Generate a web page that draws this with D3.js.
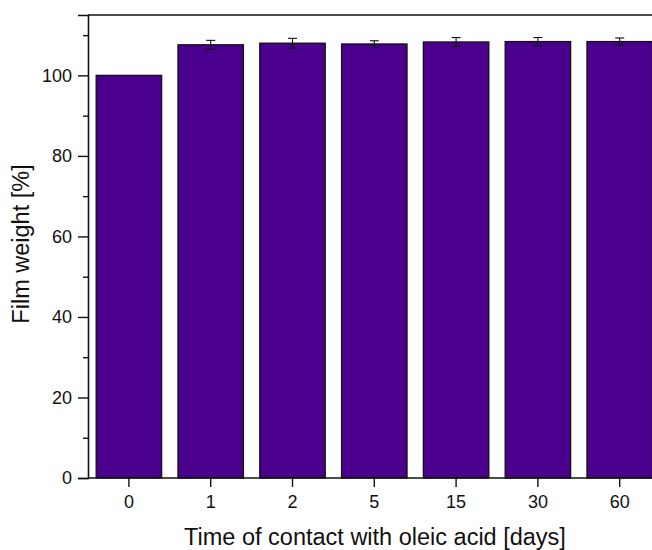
<!DOCTYPE html>
<html>
<head>
<meta charset="utf-8">
<script src="https://cdn.jsdelivr.net/npm/d3@7"></script>
<style>
  body { margin: 0; background: #fff; }
  text { font-family: "Liberation Sans", Arial, sans-serif; fill: #111; }
</style>
</head>
<body>
<div id="chart"></div>
<script>
const categories = ['0', '1', '2', '5', '15', '30', '60'];
const weights = [100, 107.6, 108.0, 107.8, 108.3, 108.4, 108.4];
const errors = [0, 1.1, 1.2, 0.8, 1.1, 1.0, 0.9];
const yTicks = [0, 20, 40, 60, 80, 100];
const yMinorTicks = [10, 30, 50, 70, 90, 110];

const width = 652, height = 550;
const margin = { top: 15, left: 88, bottom: 72 };
const innerHeight = height - margin.top - margin.bottom;

const svg = d3.select('#chart').append('svg')
  .attr('width', width).attr('height', height);

const x = d3.scaleBand()
  .domain(categories)
  .range([margin.left, 660.6])
  .paddingInner(0.2)
  .paddingOuter(0.1);

const y = d3.scaleLinear()
  .domain([0, 115])
  .range([margin.top + innerHeight, margin.top]);

const data = categories.map((c, i) => ({ c, v: weights[i], e: errors[i] }));

// bars
svg.append('g')
  .selectAll('rect')
  .data(data)
  .join('rect')
  .attr('x', d => x(d.c))
  .attr('y', d => y(d.v))
  .attr('width', x.bandwidth())
  .attr('height', d => y(0) - y(d.v))
  .attr('fill', '#4a008c')
  .attr('stroke', '#111')
  .attr('stroke-width', 1.3);

// error bars
const eb = svg.append('g')
  .selectAll('g')
  .data(data.filter(d => d.e > 0))
  .join('g')
  .attr('stroke', '#111')
  .attr('stroke-width', 1.1);
const cx = d => x(d.c) + x.bandwidth() / 2;
eb.append('line')
  .attr('x1', cx).attr('x2', cx)
  .attr('y1', d => y(d.v + d.e)).attr('y2', d => y(d.v - d.e));
eb.append('line')
  .attr('x1', d => cx(d) - 4.5).attr('x2', d => cx(d) + 4.5)
  .attr('y1', d => y(d.v + d.e)).attr('y2', d => y(d.v + d.e));
eb.append('line')
  .attr('x1', d => cx(d) - 4.5).attr('x2', d => cx(d) + 4.5)
  .attr('y1', d => y(d.v - d.e)).attr('y2', d => y(d.v - d.e));

// top frame
svg.append('line')
  .attr('x1', margin.left).attr('x2', width)
  .attr('y1', margin.top).attr('y2', margin.top)
  .attr('stroke', '#111').attr('stroke-width', 1.6);

// y axis
svg.append('g')
  .attr('transform', `translate(${margin.left},0)`)
  .call(d3.axisLeft(y).tickValues(yTicks).tickSize(10).tickPadding(6));
svg.append('g')
  .attr('transform', `translate(${margin.left},0)`)
  .call(d3.axisLeft(y).tickValues(yMinorTicks).tickSize(5).tickFormat(''))
  .call(g => g.select('.domain').remove());

// x axis
const xAxis = svg.append('g')
  .attr('transform', `translate(0,${y(0)})`)
  .call(d3.axisBottom(x).tickSize(9).tickPadding(8).tickSizeOuter(0));
xAxis.select('.domain').attr('d', `M${margin.left},0H${width}`);

svg.selectAll('.domain').attr('stroke', '#111').attr('stroke-width', 1.6);
svg.selectAll('.tick line').attr('stroke', '#111').attr('stroke-width', 1.4);
svg.selectAll('.tick text')
  .style('font-size', '18px')
  .style('font-family', '"Liberation Sans", Arial, sans-serif')
  .attr('fill', '#111');

// titles
svg.append('text')
  .attr('x', 375).attr('y', 545)
  .attr('text-anchor', 'middle')
  .style('font-size', '23.5px')
  .text('Time of contact with oleic acid [days]');

svg.append('text')
  .attr('transform', 'translate(29,244) rotate(-90)')
  .attr('text-anchor', 'middle')
  .style('font-size', '23.5px')
  .text('Film weight [%]');
</script>
</body>
</html>
